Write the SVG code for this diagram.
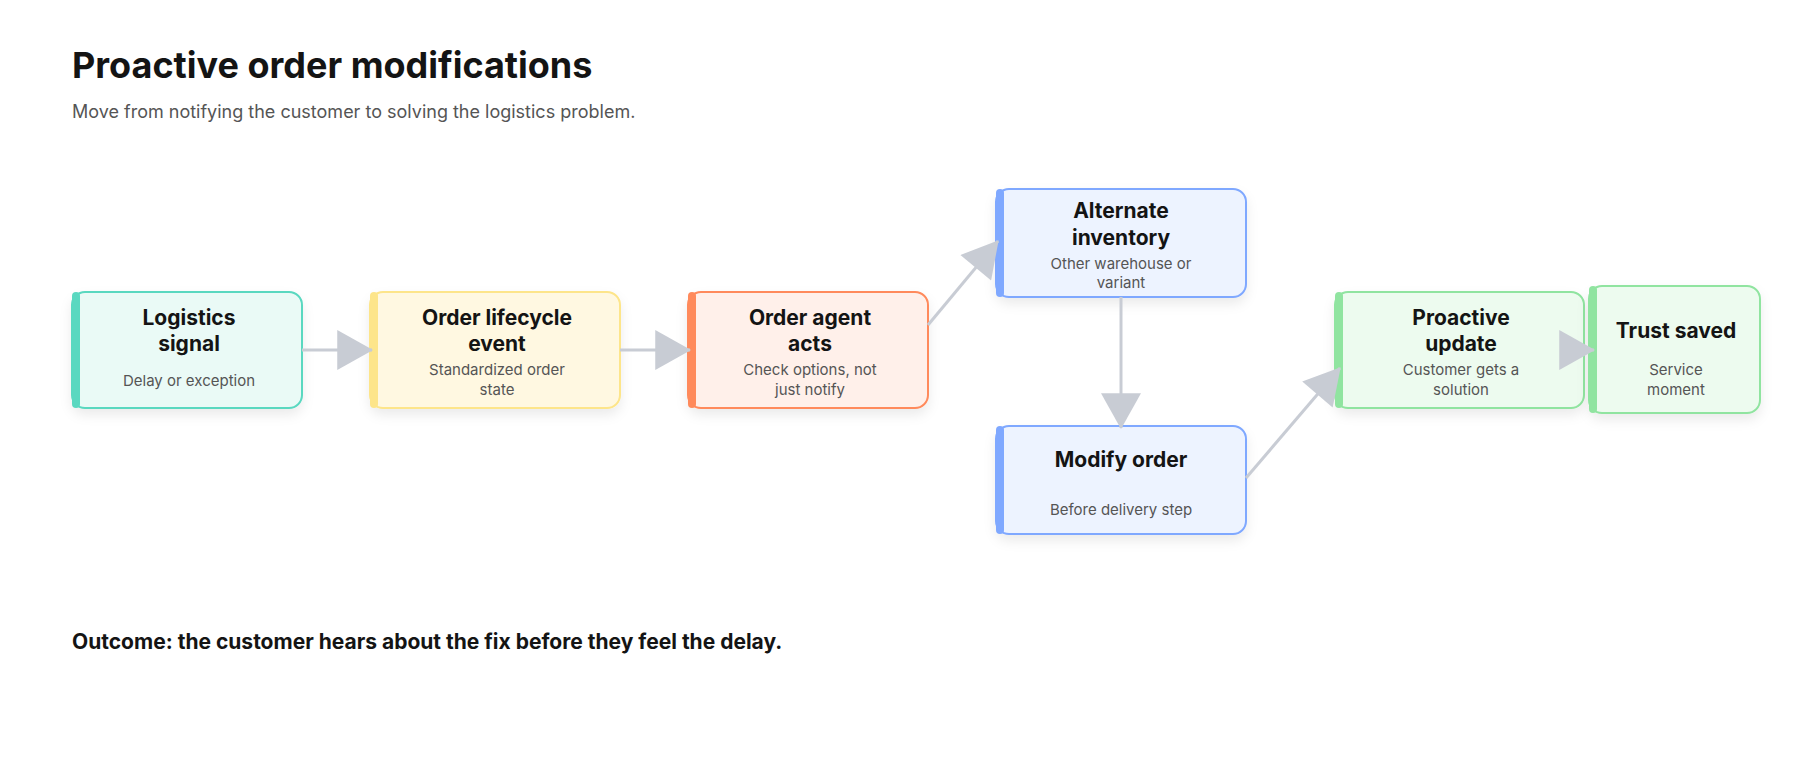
<svg xmlns="http://www.w3.org/2000/svg" width="1800" height="760" viewBox="0 0 1800 760">
<defs>
<style>
.t{font-family:Inter,"Noto Sans",sans-serif;font-weight:700;fill:#141414}
.h{font-size:21px;text-anchor:middle}
.s{font-family:Inter,"Noto Sans",sans-serif;font-size:15px;fill:#555;text-anchor:middle}
.c{stroke:#c8ccd4;stroke-width:3;fill:none;marker-end:url(#a)}
</style>
<marker id="a" markerUnits="userSpaceOnUse" markerWidth="40" markerHeight="40" viewBox="0 0 34 38" refX="33" refY="19" orient="auto"><path d="M0,0 L34,19 L0,38 Z" fill="#c8ccd4"/></marker>
<filter id="sh" x="-20%" y="-20%" width="140%" height="150%"><feDropShadow dx="0" dy="6" stdDeviation="6" flood-color="#000" flood-opacity="0.08"/></filter>
</defs>
<rect width="1800" height="760" fill="#fff"/>
<text x="72" y="78" class="t" font-size="36">Proactive order modifications</text>
<text x="72" y="118" font-family="Inter,'Noto Sans',sans-serif" font-size="18" fill="#555">Move from notifying the customer to solving the logistics problem.</text>
<g id="n1"><rect x="72" y="292" width="230" height="116" rx="13" fill="#eafaf6" stroke="#5ad8c0" stroke-width="2" filter="url(#sh)"/><rect x="72" y="292" width="8" height="116" rx="4" fill="#5ad8c0"/>
<text x="189" y="325" class="t h">Logistics</text><text x="189" y="351" class="t h">signal</text><text x="189" y="386" class="s">Delay or exception</text></g>
<g id="n2"><rect x="370" y="292" width="250" height="116" rx="13" fill="#fff8e1" stroke="#fde58a" stroke-width="2" filter="url(#sh)"/><rect x="370" y="292" width="8" height="116" rx="4" fill="#fde58a"/>
<text x="497" y="325" class="t h">Order lifecycle</text><text x="497" y="351" class="t h">event</text><text x="497" y="375" class="s">Standardized order</text><text x="497" y="395" class="s">state</text></g>
<g id="n3"><rect x="688" y="292" width="240" height="116" rx="13" fill="#fff0ea" stroke="#ff8a5b" stroke-width="2" filter="url(#sh)"/><rect x="688" y="292" width="8" height="116" rx="4" fill="#ff8a5b"/>
<text x="810" y="325" class="t h">Order agent</text><text x="810" y="351" class="t h">acts</text><text x="810" y="375" class="s">Check options, not</text><text x="810" y="395" class="s">just notify</text></g>
<g id="n4"><rect x="996" y="189" width="250" height="108" rx="13" fill="#edf3ff" stroke="#7fa8ff" stroke-width="2" filter="url(#sh)"/><rect x="996" y="189" width="8" height="108" rx="4" fill="#7fa8ff"/>
<text x="1121" y="218" class="t h">Alternate</text><text x="1121" y="245" class="t h">inventory</text><text x="1121" y="269" class="s">Other warehouse or</text><text x="1121" y="288" class="s">variant</text></g>
<g id="n5"><rect x="996" y="426" width="250" height="108" rx="13" fill="#edf3ff" stroke="#7fa8ff" stroke-width="2" filter="url(#sh)"/><rect x="996" y="426" width="8" height="108" rx="4" fill="#7fa8ff"/>
<text x="1121" y="467" class="t h">Modify order</text><text x="1121" y="515" class="s">Before delivery step</text></g>
<g id="n6"><rect x="1335" y="292" width="249" height="116" rx="13" fill="#edfbef" stroke="#90e4a0" stroke-width="2" filter="url(#sh)"/><rect x="1335" y="292" width="8" height="116" rx="4" fill="#90e4a0"/>
<text x="1461" y="325" class="t h">Proactive</text><text x="1461" y="351" class="t h">update</text><text x="1461" y="375" class="s">Customer gets a</text><text x="1461" y="395" class="s">solution</text></g>
<g id="n7"><rect x="1589" y="286" width="171" height="127" rx="13" fill="#edfbef" stroke="#90e4a0" stroke-width="2" filter="url(#sh)"/><rect x="1589" y="286" width="8" height="127" rx="4" fill="#90e4a0"/>
<text x="1676" y="338" class="t h">Trust saved</text><text x="1676" y="375" class="s">Service</text><text x="1676" y="395" class="s">moment</text></g>
<g id="connectors">
<line class="c" x1="302" y1="350" x2="372" y2="350"/>
<line class="c" x1="620" y1="350" x2="690" y2="350"/>
<line class="c" x1="928" y1="325" x2="998" y2="241"/>
<line class="c" x1="1121" y1="297" x2="1121" y2="428"/>
<line class="c" x1="1246" y1="478" x2="1340" y2="368"/>
<line class="c" x1="1560" y1="350" x2="1594" y2="350"/>
</g>
<text x="72" y="649" class="t" font-size="21">Outcome: the customer hears about the fix before they feel the delay.</text>
</svg>
